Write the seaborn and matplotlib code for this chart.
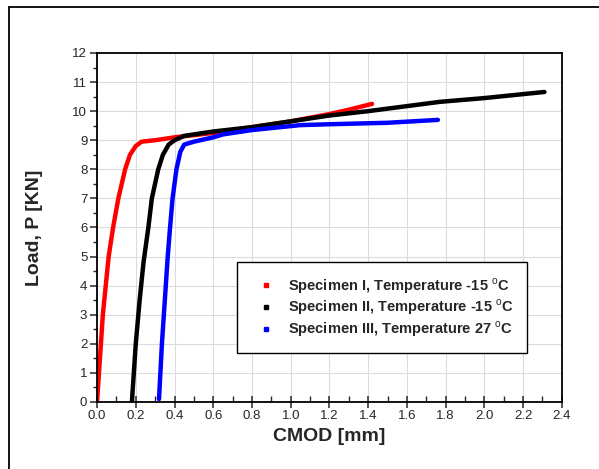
import numpy as np
import pandas as pd
import matplotlib
matplotlib.use("Agg")
import matplotlib.pyplot as plt
from matplotlib.lines import Line2D
from matplotlib.ticker import MultipleLocator
import seaborn as sns

# Data
spec1_x = [0.0, 0.01, 0.02, 0.03, 0.045, 0.06, 0.083, 0.11, 0.145, 0.17, 0.2, 0.23, 0.3, 0.4, 0.6, 0.8, 1.0, 1.2, 1.3, 1.42]
spec1_y = [0.0, 1.0, 2.0, 3.0, 4.0, 5.0, 6.0, 7.0, 8.0, 8.5, 8.8, 8.95, 9.0, 9.1, 9.25, 9.45, 9.65, 9.9, 10.05, 10.25]

spec2_x = [0.18, 0.2, 0.22, 0.24, 0.265, 0.283, 0.316, 0.34, 0.37, 0.40, 0.45, 0.6, 0.8, 1.05, 1.2, 1.4, 1.77, 2.0, 2.31]
spec2_y = [0.0, 2.0, 3.5, 4.8, 6.0, 7.0, 8.0, 8.5, 8.85, 9.0, 9.15, 9.3, 9.45, 9.7, 9.85, 10.0, 10.32, 10.45, 10.66]

spec3_x = [0.32, 0.335, 0.35, 0.365, 0.377, 0.39, 0.41, 0.43, 0.45, 0.5, 0.6, 0.65, 0.8, 1.05, 1.2, 1.5, 1.76]
spec3_y = [0.1, 2.0, 3.5, 5.0, 6.0, 7.0, 8.0, 8.6, 8.85, 8.95, 9.1, 9.2, 9.35, 9.52, 9.55, 9.6, 9.7]

labels = ["Specimen I, Temperature -15 $^{\\mathrm{o}}$C",
          "Specimen II, Temperature -15 $^{\\mathrm{o}}$C",
          "Specimen III, Temperature 27 $^{\\mathrm{o}}$C"]
colors = ["#ff0000", "#000000", "#0000ff"]

df = pd.concat([
    pd.DataFrame({"CMOD": spec1_x, "Load": spec1_y, "Specimen": labels[0]}),
    pd.DataFrame({"CMOD": spec2_x, "Load": spec2_y, "Specimen": labels[1]}),
    pd.DataFrame({"CMOD": spec3_x, "Load": spec3_y, "Specimen": labels[2]}),
], ignore_index=True)

sns.set_style("white")
plt.rcParams['font.family'] = ['Liberation Sans', 'DejaVu Sans']
plt.rcParams['mathtext.fontset'] = 'custom'
plt.rcParams['mathtext.rm'] = 'Liberation Sans'
plt.rcParams['mathtext.bf'] = 'Liberation Sans:bold'

fig = plt.figure(figsize=(5.99, 4.69), dpi=100)
ax = fig.add_axes([0.162, 0.143, 0.776, 0.744])

sns.lineplot(data=df, x="CMOD", y="Load", hue="Specimen", palette=colors,
             sort=False, estimator=None, units="Specimen", linewidth=3.2,
             legend=False, ax=ax)

ax.set_xlim(0, 2.4)
ax.set_ylim(0, 12)
ax.xaxis.set_major_locator(MultipleLocator(0.2))
ax.xaxis.set_minor_locator(MultipleLocator(0.1))
ax.yaxis.set_major_locator(MultipleLocator(1))
ax.yaxis.set_minor_locator(MultipleLocator(0.5))
ax.xaxis.set_major_formatter(matplotlib.ticker.FormatStrFormatter("%.1f"))
ax.yaxis.set_major_formatter(matplotlib.ticker.FormatStrFormatter("%d"))

ax.grid(True, which="major", color="#dcdcdc", linewidth=0.8)
ax.set_axisbelow(True)
for s in ax.spines.values():
    s.set_color("black")
    s.set_linewidth(1.3)

ax.tick_params(axis="x", which="major", direction="inout", length=8, width=1.1, labelsize=9.5, pad=2)
ax.tick_params(axis="x", which="minor", direction="in", length=4, width=1.0)
ax.tick_params(axis="y", which="major", direction="out", length=5, width=1.1, labelsize=9.5, pad=2)
ax.tick_params(axis="y", which="minor", direction="out", length=3, width=1.0)
ax.tick_params(bottom=True, left=True, which="both")

ax.set_xlabel("CMOD [mm]", fontsize=14, fontweight="bold", labelpad=4)
ax.set_ylabel("Load, P [KN]", fontsize=14, fontweight="bold", labelpad=21)

handles = [Line2D([], [], linestyle="none", marker="s", markersize=3.5,
                  color=c, markeredgecolor=c) for c in colors]
leg = ax.legend(handles, labels, loc="lower left",
                bbox_to_anchor=(0.396, 0.247), bbox_transform=fig.transFigure,
                frameon=True, fancybox=False, framealpha=1, edgecolor="black",
                prop={"weight": "bold", "size": 10.5}, borderpad=0.95,
                labelspacing=0.15, handletextpad=0.4, handlelength=2.1,
                borderaxespad=0)
leg.get_frame().set_linewidth(1.0)

# outer figure frame (top and left)
fig.add_artist(Line2D([9/599, 1.0], [1 - 7/469, 1 - 7/469], transform=fig.transFigure,
                      color="black", linewidth=1.3))
fig.add_artist(Line2D([9/599, 9/599], [0, 1 - 7/469], transform=fig.transFigure,
                      color="black", linewidth=1.3))

fig.savefig("out.png", dpi=100)
